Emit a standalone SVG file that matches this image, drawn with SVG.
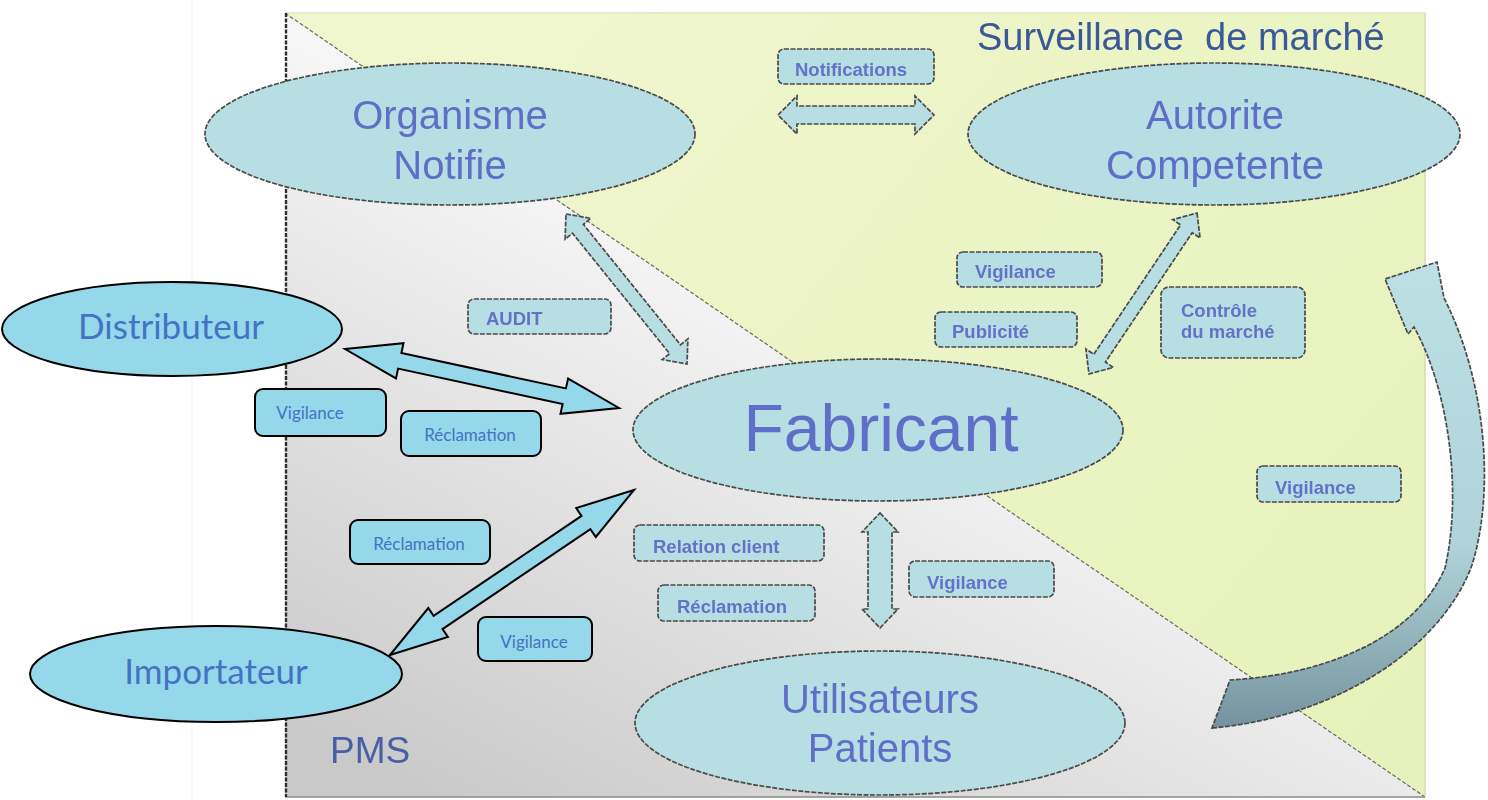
<svg xmlns="http://www.w3.org/2000/svg" width="1488" height="800" viewBox="0 0 1488 800">
  <style>
    .old { fill: #b7dee2; stroke: #4a4a4a; stroke-width: 1.7; stroke-dasharray: 5 1.5; }
    .oldTxt { font-family: "Liberation Sans", Arial, sans-serif; fill: #5f6ec8; text-anchor: middle; filter: url(#soft); }
    .boxTxt { font-family: "Liberation Sans", Arial, sans-serif; font-weight: bold; font-size: 18.5px; fill: #6472c8; filter: url(#soft); }
    .new { fill: #94d8ea; stroke: #000; stroke-width: 2; }
    .newTxt { font-family: Lato, "Noto Sans", sans-serif; fill: #4472c4; text-anchor: middle; }
  </style>
  <defs>
    <filter id="soft" x="-5%" y="-20%" width="110%" height="140%">
      <feGaussianBlur stdDeviation="0.45"/>
    </filter>
    <linearGradient id="pmsShade" gradientUnits="userSpaceOnUse" x1="700" y1="250" x2="420" y2="800">
      <stop offset="0" stop-color="#f6f6f6"/>
      <stop offset="1" stop-color="#c9c9c9"/>
    </linearGradient>
    <linearGradient id="marketShade" gradientUnits="userSpaceOnUse" x1="600" y1="13" x2="1425" y2="700">
      <stop offset="0" stop-color="#f0f6cd"/>
      <stop offset="1" stop-color="#e6f2bb"/>
    </linearGradient>
    <linearGradient id="loopShade" gradientUnits="userSpaceOnUse" x1="0" y1="262" x2="0" y2="735">
      <stop offset="0" stop-color="#bde0e5"/>
      <stop offset="0.6" stop-color="#afd3d9"/>
      <stop offset="0.8" stop-color="#93b3bb"/>
      <stop offset="1" stop-color="#71909c"/>
    </linearGradient>
  </defs>

  <rect width="1488" height="800" fill="#ffffff"/>
  <line x1="192" y1="0" x2="192" y2="800" stroke="#f1f1f1" stroke-width="1"/>

  <!-- Background panel: PMS (lower-left) and market surveillance (upper-right) -->
  <g id="panel">
    <polygon points="285,13 1425,797 285,797" fill="url(#pmsShade)"/>
    <polygon points="285,13 1425,13 1425,797" fill="url(#marketShade)"/>
    <line x1="285" y1="13" x2="1425" y2="797" stroke="#6b6b5a" stroke-width="1.2" stroke-dasharray="4 2"/>
    <line x1="285" y1="13" x2="1425" y2="13" stroke="#dfe6c0" stroke-width="1.5"/>
    <line x1="1425" y1="13" x2="1425" y2="797" stroke="#d6dea6" stroke-width="1.5"/>
    <line x1="285" y1="797" x2="1425" y2="797" stroke="#8a8a8a" stroke-width="1.5"/>
    <line x1="286" y1="13" x2="286" y2="797" stroke="#2e2e2e" stroke-width="2.4" stroke-dasharray="4 1.5"/>
    <text x="977" y="50" xml:space="preserve" font-family="Liberation Sans, Arial, sans-serif" font-size="38" fill="#3a5898" filter="url(#soft)">Surveillance  de marché</text>
    <text x="330" y="763" font-family="Liberation Sans, Arial, sans-serif" font-size="37" fill="#4a5fa5" filter="url(#soft)">PMS</text>
  </g>

  <!-- Connectors -->
  <g id="connectors">
    <!-- Notifications: Organisme Notifie <-> Autorite Competente -->
    <polygon class="old" points="778,115 797,96 797,106 915,106 915,96 934,115 915,134 915,124 797,124 797,134"/>
    <!-- AUDIT: Organisme Notifie <-> Fabricant -->
    <polygon class="old" points="566,214 590.8,218.4 583.4,224.4 680.5,344.8 687.9,338.9 687,364 662.2,359.6 669.6,353.6 572.5,233.2 565.1,239.2"/>
    <!-- Autorite Competente <-> Fabricant -->
    <polygon class="old" points="1197,213 1200.1,238 1192.2,232.7 1105.4,362.1 1113.3,367.4 1089,374 1085.9,349 1093.8,354.3 1180.6,224.9 1172.7,219.6"/>
    <!-- Fabricant <-> Utilisateurs Patients -->
    <polygon class="old" points="880,513 898,532 892,532 892,609 898,609 880,628 862,609 868,609 868,532 862,532"/>
    <!-- Vigilance loop from users back to the authority -->
    <path class="old" style="fill:url(#loopShade)" d="M 1212 728 C 1330 718, 1440 652, 1472 565 C 1494 495, 1488 385, 1444 298 L 1437 262 L 1385 279 L 1408 334 L 1414 327 C 1450 392, 1462 495, 1445 568 C 1414 640, 1322 675, 1230 680 Z"/>
    <!-- Distributeur <-> Fabricant -->
    <polygon class="new" points="345,349 403.5,343.2 401.4,353 565.9,388.4 568.1,378.6 619,408 560.5,413.8 562.6,404 398.1,368.6 396,378.4"/>
    <!-- Importateur <-> Fabricant -->
    <polygon class="new" points="390,655 428.3,608 433.6,615.9 581.5,515.9 576.2,508 634,490 595.8,537 590.4,529.1 442.5,629.1 447.9,637"/>
  </g>

  <!-- Nodes -->
  <g id="organisme-notifie">
    <ellipse class="old" cx="450" cy="134" rx="245" ry="71"/>
    <text class="oldTxt" x="450" y="129" font-size="40">Organisme</text>
    <text class="oldTxt" x="450" y="179" font-size="40">Notifie</text>
  </g>
  <g id="autorite-competente">
    <ellipse class="old" cx="1214" cy="134" rx="246" ry="71"/>
    <text class="oldTxt" x="1215" y="129" font-size="40">Autorite</text>
    <text class="oldTxt" x="1215" y="179" font-size="40">Competente</text>
  </g>
  <g id="fabricant">
    <ellipse class="old" cx="878" cy="430" rx="245" ry="71"/>
    <text class="oldTxt" x="881" y="451" font-size="66">Fabricant</text>
  </g>
  <g id="utilisateurs-patients">
    <ellipse class="old" cx="880" cy="723" rx="245" ry="72"/>
    <text class="oldTxt" x="880" y="713" font-size="40">Utilisateurs</text>
    <text class="oldTxt" x="880" y="762" font-size="40">Patients</text>
  </g>
  <g id="distributeur">
    <ellipse class="new" cx="172" cy="329" rx="170" ry="47"/>
    <text class="newTxt" x="171" y="339" font-size="35">Distributeur</text>
  </g>
  <g id="importateur">
    <ellipse class="new" cx="216" cy="674" rx="186" ry="48"/>
    <text class="newTxt" x="216" y="684" font-size="35">Importateur</text>
  </g>

  <!-- Flow labels, slide style -->
  <g id="label-notifications">
    <rect class="old" x="778" y="49" width="156" height="35" rx="6"/>
    <text class="boxTxt" x="795" y="76">Notifications</text>
  </g>
  <g id="label-audit">
    <rect class="old" x="468" y="299" width="143" height="35" rx="6"/>
    <text class="boxTxt" x="486" y="325">AUDIT</text>
  </g>
  <g id="label-vigilance-authority">
    <rect class="old" x="957" y="252" width="145" height="35" rx="6"/>
    <text class="boxTxt" x="975" y="278">Vigilance</text>
  </g>
  <g id="label-publicite">
    <rect class="old" x="935" y="312" width="142" height="35" rx="6"/>
    <text class="boxTxt" x="952" y="338">Publicité</text>
  </g>
  <g id="label-controle">
    <rect class="old" x="1161" y="287" width="144" height="71" rx="8"/>
    <text class="boxTxt" x="1181" y="317">Contrôle</text>
    <text class="boxTxt" x="1181" y="338">du marché</text>
  </g>
  <g id="label-vigilance-loop">
    <rect class="old" x="1257" y="466" width="144" height="36" rx="6"/>
    <text class="boxTxt" x="1275" y="494">Vigilance</text>
  </g>
  <g id="label-relation-client">
    <rect class="old" x="634" y="525" width="190" height="36" rx="6"/>
    <text class="boxTxt" x="653" y="553">Relation client</text>
  </g>
  <g id="label-reclamation-users">
    <rect class="old" x="658" y="585" width="157" height="36" rx="6"/>
    <text class="boxTxt" x="677" y="613">Réclamation</text>
  </g>
  <g id="label-vigilance-users">
    <rect class="old" x="909" y="561" width="145" height="36" rx="6"/>
    <text class="boxTxt" x="927" y="589">Vigilance</text>
  </g>

  <!-- Flow labels, distribution chain -->
  <g id="label-vigilance-distributeur">
    <rect class="new" x="255" y="389" width="131" height="47" rx="8"/>
    <text class="newTxt" x="310" y="419" font-size="17">Vigilance</text>
  </g>
  <g id="label-reclamation-distributeur">
    <rect class="new" x="401" y="411" width="140" height="45" rx="8"/>
    <text class="newTxt" x="470" y="441" font-size="17">Réclamation</text>
  </g>
  <g id="label-reclamation-importateur">
    <rect class="new" x="350" y="520" width="140" height="44" rx="8"/>
    <text class="newTxt" x="419" y="550" font-size="17">Réclamation</text>
  </g>
  <g id="label-vigilance-importateur">
    <rect class="new" x="478" y="617" width="114" height="44" rx="8"/>
    <text class="newTxt" x="534" y="648" font-size="17">Vigilance</text>
  </g>
</svg>
